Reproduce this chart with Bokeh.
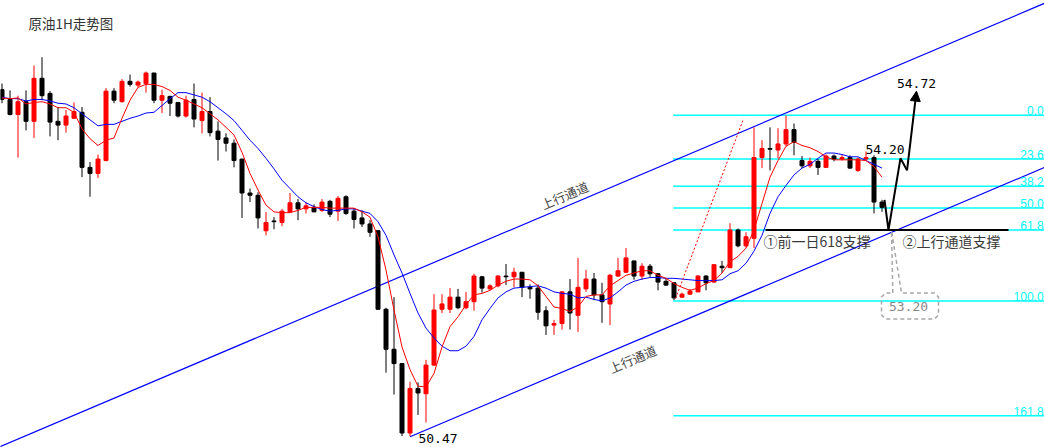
from bokeh.plotting import figure
from bokeh.models import Range1d, ColumnDataSource, Arrow, NormalHead, Label
from bokeh.embed import file_html
from bokeh.resources import INLINE

# ---------------- data (price, 1H bars) ----------------
opens = [
    55.06, 54.93, 54.73, 54.90, 54.64, 55.21, 55.01, 54.64, 54.59, 54.68,
    54.76, 54.03, 53.95, 54.12, 55.04, 54.90, 55.17, 55.12, 55.14, 55.28,
    54.92, 54.97, 54.89, 54.71, 54.93, 54.65, 54.77, 54.51, 54.42, 54.35,
    54.14, 53.69, 53.66, 53.19, 53.32, 53.30, 53.44, 53.56, 53.48, 53.50,
    53.46, 53.58, 53.45, 53.64, 53.45, 53.36, 53.28, 53.19, 52.15, 51.62,
    51.43, 50.51, 51.10, 51.03, 51.41, 52.15, 52.15, 52.31, 52.17, 52.25,
    52.58, 52.42, 52.46, 52.59, 52.58, 52.64, 52.44, 52.43, 52.13, 51.94,
    51.96, 52.38, 52.07, 52.42, 52.55, 52.34, 52.22, 52.59, 52.64, 52.79,
    52.59, 52.72, 52.62, 52.52, 52.50, 52.31, 52.35, 52.38, 52.59, 52.51,
    52.72, 52.70, 53.20, 52.99, 53.09, 54.16, 54.28, 54.26, 54.34, 54.53,
    54.12, 54.05, 54.11, 54.03, 54.18, 54.14, 54.16, 53.99, 54.14, 54.16,
    53.57]
highs = [
    55.14, 55.05, 54.98, 55.05, 55.38, 55.49, 55.04, 54.83, 54.79, 54.89,
    54.83, 54.10, 54.20, 55.08, 55.08, 55.20, 55.26, 55.18, 55.30, 55.28,
    55.06, 54.98, 54.89, 54.98, 55.14, 55.02, 54.96, 54.64, 54.48, 54.40,
    54.14, 53.75, 53.70, 53.44, 53.37, 53.48, 53.69, 53.61, 53.57, 53.54,
    53.61, 53.60, 53.65, 53.66, 53.49, 53.46, 53.33, 53.20, 52.17, 52.31,
    51.43, 51.19, 51.18, 51.48, 52.35, 52.35, 52.43, 52.42, 52.38, 52.62,
    52.59, 52.48, 52.60, 52.75, 52.70, 52.64, 52.48, 52.48, 52.19, 52.01,
    52.39, 52.55, 52.83, 52.67, 52.63, 52.50, 52.62, 52.83, 52.96, 52.79,
    52.76, 52.75, 52.63, 52.56, 52.51, 52.37, 52.42, 52.60, 52.60, 52.75,
    52.79, 53.29, 53.22, 53.17, 54.56, 54.39, 54.56, 54.55, 54.72, 54.61,
    54.18, 54.16, 54.14, 54.20, 54.20, 54.20, 54.19, 54.16, 54.24, 54.19,
    53.60]
lows = [
    54.88, 54.72, 54.16, 54.52, 54.42, 54.92, 54.44, 54.39, 54.49, 54.68,
    53.90, 53.64, 53.89, 54.11, 54.88, 54.89, 55.10, 55.09, 55.02, 54.88,
    54.75, 54.71, 54.69, 54.69, 54.56, 54.48, 54.44, 54.12, 54.24, 54.03,
    53.36, 53.57, 53.22, 53.13, 53.21, 53.25, 53.44, 53.33, 53.42, 53.44,
    53.44, 53.37, 53.32, 53.40, 53.22, 53.24, 53.11, 52.14, 51.31, 51.02,
    50.47, 50.47, 50.75, 50.65, 51.40, 52.10, 52.10, 52.15, 52.15, 52.13,
    52.37, 52.40, 52.44, 52.47, 52.44, 52.31, 52.29, 52.01, 51.81, 51.81,
    51.88, 51.88, 51.85, 52.38, 52.27, 51.97, 51.94, 52.58, 52.63, 52.54,
    52.54, 52.58, 52.40, 52.46, 52.27, 52.30, 52.34, 52.38, 52.40, 52.50,
    52.63, 52.70, 52.97, 52.97, 52.96, 54.02, 53.99, 54.15, 54.31, 54.19,
    54.02, 54.02, 53.93, 54.03, 54.11, 54.12, 54.01, 53.97, 54.12, 53.42,
    53.44]
closes = [
    54.93, 54.73, 54.90, 54.64, 55.21, 54.98, 54.63, 54.59, 54.71, 54.77,
    54.03, 53.95, 54.14, 55.04, 54.92, 55.17, 55.13, 55.16, 55.28, 54.92,
    54.98, 54.88, 54.71, 54.92, 54.67, 54.77, 54.49, 54.40, 54.35, 54.12,
    53.69, 53.66, 53.36, 53.30, 53.31, 53.45, 53.56, 53.48, 53.52, 53.44,
    53.57, 53.41, 53.62, 53.42, 53.34, 53.28, 53.17, 52.15, 51.62, 51.43,
    50.51, 51.10, 51.04, 51.41, 52.14, 52.22, 52.31, 52.17, 52.25, 52.59,
    52.43, 52.46, 52.59, 52.58, 52.64, 52.44, 52.42, 52.11, 51.93, 51.96,
    52.38, 52.10, 52.44, 52.55, 52.34, 52.25, 52.60, 52.66, 52.83, 52.59,
    52.72, 52.62, 52.51, 52.47, 52.30, 52.35, 52.39, 52.59, 52.50, 52.74,
    52.70, 53.20, 52.99, 53.11, 54.16, 54.28, 54.27, 54.34, 54.53, 54.36,
    54.05, 54.11, 54.03, 54.18, 54.14, 54.16, 54.02, 54.14, 54.16, 53.57,
    53.50]
ma_fast = [
    54.95, 54.94, 54.95, 54.87, 54.89, 54.90, 54.87, 54.82, 54.82, 54.76,
    54.54, 54.41, 54.32, 54.39, 54.42, 54.68, 54.92, 55.09, 55.13, 55.13,
    55.10, 55.05, 54.96, 54.92, 54.87, 54.82, 54.74, 54.66, 54.56, 54.46,
    54.23, 53.95, 53.73, 53.53, 53.44, 53.43, 53.43, 53.46, 53.50, 53.50,
    53.50, 53.49, 53.49, 53.49, 53.49, 53.44, 53.37, 53.11, 52.67, 52.14,
    51.65, 51.35, 51.13, 51.12, 51.30, 51.65, 51.92, 52.05, 52.21, 52.34,
    52.36, 52.40, 52.47, 52.52, 52.55, 52.55, 52.54, 52.46, 52.32, 52.18,
    52.16, 52.12, 52.18, 52.32, 52.34, 52.34, 52.46, 52.53, 52.60, 52.63,
    52.66, 52.66, 52.60, 52.56, 52.49, 52.44, 52.40, 52.43, 52.49, 52.53,
    52.63, 52.78, 52.85, 52.96, 53.20, 53.55, 53.90, 54.12, 54.31, 54.37,
    54.32, 54.29, 54.24, 54.17, 54.13, 54.13, 54.13, 54.13, 54.12, 54.04,
    53.90]
ma_slow = [
    54.96, 54.94, 54.94, 54.91, 54.93, 54.93, 54.91, 54.88, 54.87, 54.82,
    54.74, 54.66, 54.58, 54.60, 54.60, 54.64, 54.68, 54.71, 54.75, 54.76,
    54.85, 54.94, 55.02, 55.02, 54.99, 54.96, 54.90, 54.82, 54.74, 54.65,
    54.52, 54.39, 54.28, 54.15, 54.01, 53.86, 53.75, 53.64, 53.56, 53.51,
    53.47, 53.45, 53.46, 53.48, 53.48, 53.45, 53.42, 53.31, 53.13, 52.87,
    52.63, 52.36, 52.10, 51.90, 51.77, 51.66, 51.60, 51.60, 51.66, 51.79,
    52.01, 52.16, 52.30, 52.38, 52.43, 52.44, 52.45, 52.46, 52.43, 52.38,
    52.36, 52.35, 52.30, 52.31, 52.28, 52.26, 52.30, 52.38, 52.47, 52.52,
    52.55, 52.57, 52.57, 52.56, 52.56, 52.55, 52.54, 52.53, 52.53, 52.53,
    52.54, 52.62, 52.66, 52.76, 52.92, 53.13, 53.42, 53.64, 53.79, 53.93,
    54.02, 54.07, 54.15, 54.22, 54.22, 54.20, 54.17, 54.17, 54.12, 54.07,
    54.02]

# channel (trend lines): slope per bar and anchor bars/prices
channel_slope = 0.045
upper_anchor = (98, 54.75)
lower_anchor = (51, 50.46)
channel_label_text = "上行通道"

# fibonacci retracement of the swing low (bar 84) -> high (bar 98)
fib_high = 54.72
fib_low = 52.26
fib_ratios = [0.0, 23.6, 38.2, 50.0, 61.8, 100.0, 161.8]
fib_labels = ["0.0", "23.6", "38.2", "50.0", "61.8", "100.0", "161.8"]
fib_start_bar = 83.9

# annotations
support_level = 53.20
support_bars = [95.44, 125.81]
dotted_trend_x = [84.2, 92.7]
dotted_trend_y = [52.295, 54.676]
forecast_x = [110.31, 110.81, 112.31, 113.13]
forecast_y = [53.60, 53.20, 54.15, 53.99]
forecast_tip = (114.31, 55.04)
callout_x = [111.35, 111.19, 112.44, 116.56, 117.06, 117.06, 116.56,
             110.44, 109.94, 109.94, 110.44, 111.35]
callout_y = [52.365, 53.185, 52.365, 52.365, 52.312, 52.074, 52.021,
             52.021, 52.074, 52.312, 52.365, 52.365]

title_text = "原油1H走势图"
high_label, mid_label, low_label, target_label = "54.72", "54.20", "50.47", "53.20"
note1 = "①前一日618支撑"
note2 = "②上行通道支撑"

# ---------------- figure ----------------
W, H = 1044, 447
p = figure(width=W, height=H, output_backend="svg", toolbar_location=None,
           x_range=Range1d(-0.1875, 130.3125), y_range=Range1d(50.318, 56.241),
           x_axis_location=None, y_axis_location=None, min_border=0)
p.grid.visible = False
p.outline_line_color = None
p.background_fill_color = "white"
p.border_fill_color = "white"

RED, BLACK, BLUE, CYAN = "#FF0000", "#000000", "#0000FF", "#00FFFF"
CJK = "Noto Sans CJK SC"
MONO = "DejaVu Sans Mono"

# fibonacci lines
fib_prices = [fib_high - r / 100.0 * (fib_high - fib_low) for r in fib_ratios]
p.segment(x0=[fib_start_bar] * len(fib_prices), x1=[131] * len(fib_prices),
          y0=fib_prices, y1=fib_prices, line_color=CYAN, line_width=1.5)
for lab, pr in zip(fib_labels, fib_prices):
    p.add_layout(Label(x=130.2, y=pr, text=lab, text_align="right",
                       text_baseline="bottom", text_color=CYAN,
                       text_font="Liberation Sans", text_font_size="12px"))

# channel lines
def chan(anchor, xs):
    return [anchor[1] + channel_slope * (x - anchor[0]) for x in xs]

ux = [-2, 132]
lx = [lower_anchor[0], 132]
p.line(ux, chan(upper_anchor, ux), line_color=BLUE, line_width=1.2)
p.line(lx, chan(lower_anchor, lx), line_color=BLUE, line_width=1.2)

# candles
idx = list(range(len(opens)))
colors = [RED if c > o else BLACK for o, c in zip(opens, closes)]
src = ColumnDataSource(dict(
    x=idx, o=opens, h=highs, l=lows, c=closes,
    top=[max(o, c) for o, c in zip(opens, closes)],
    bot=[min(o, c) for o, c in zip(opens, closes)],
    col=colors))
p.segment(x0="x", x1="x", y0="l", y1="h", line_color="col", line_width=1, source=src)
p.vbar(x="x", width=0.5, top="top", bottom="bot", fill_color="col",
       line_color="col", line_width=1, source=src)

# moving averages
p.line(idx, ma_slow, line_color=BLUE, line_width=1)
p.line(idx, ma_fast, line_color=RED, line_width=1)

# dotted trend line
p.line(dotted_trend_x, dotted_trend_y, line_color=RED, line_width=1, line_dash="2 2")

# support line
p.line(support_bars, [support_level, support_level], line_color=BLACK, line_width=2)

# forecast path
p.line(forecast_x, forecast_y, line_color=BLACK, line_width=2)
p.add_layout(Arrow(end=NormalHead(size=10, fill_color=BLACK, line_color=BLACK),
                   x_start=forecast_x[-1], y_start=forecast_y[-1],
                   x_end=forecast_tip[0], y_end=forecast_tip[1],
                   line_color=BLACK, line_width=2))

# callout
p.line(callout_x, callout_y, line_color="#A8A8A8", line_width=1.5, line_dash="4 3")

# texts
p.add_layout(Label(x=3.31, y=55.943, text=title_text, text_font=CJK,
                   text_font_size="13.5px", text_color="#333333",
                   text_baseline="middle"))
for (x, y) in [(70.31, 53.661), (78.81, 51.492)]:
    p.add_layout(Label(x=x, y=y, text=channel_label_text, text_font=CJK,
                       text_font_size="12.5px", text_color="#444444",
                       angle=0.403, angle_units="rad",
                       text_align="center", text_baseline="middle"))
p.add_layout(Label(x=114.31, y=55.143, text=high_label, text_font=MONO,
                   text_font_size="13px", text_color=BLACK,
                   text_align="center", text_baseline="middle"))
p.add_layout(Label(x=110.375, y=54.27, text=mid_label, text_font=MONO,
                   text_font_size="13px", text_color=BLACK,
                   text_align="center", text_baseline="middle"))
p.add_layout(Label(x=54.5, y=50.44, text=low_label, text_font=MONO,
                   text_font_size="13px", text_color=BLACK,
                   text_align="center", text_baseline="middle"))
p.add_layout(Label(x=113.31, y=52.187, text=target_label, text_font=MONO,
                   text_font_size="13px", text_color="#888888",
                   text_align="center", text_baseline="middle"))
p.add_layout(Label(x=95.19, y=53.06, text=note1, text_font=CJK,
                   text_font_size="14px", text_color="#3A3A3A",
                   text_baseline="middle"))
p.add_layout(Label(x=112.56, y=53.06, text=note2, text_font=CJK,
                   text_font_size="14px", text_color="#3A3A3A",
                   text_baseline="middle"))

open("out.html", "w").write(file_html(p, INLINE))
